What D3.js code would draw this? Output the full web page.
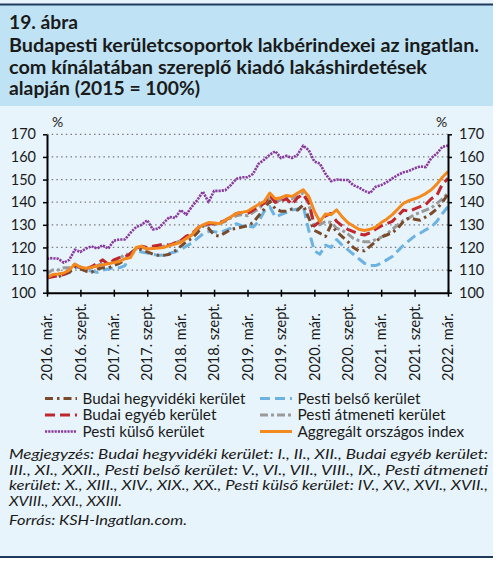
<!DOCTYPE html>
<html><head><meta charset="utf-8">
<script src="https://cdn.jsdelivr.net/npm/d3@7"></script>
<style>html,body{margin:0;padding:0;background:#fff;}svg{display:block;}</style>
</head><body><svg id="c" width="497" height="564"></svg>
<script>
// ---- data ----
const tickLabels = ["2016. már.","2016. szept.","2017. már.","2017. szept.","2018. már.","2018. szept.","2019. már.","2019. szept.","2020. már.","2020. szept.","2021. már.","2021. szept.","2022. már."];
const yTicks = [100,110,120,130,140,150,160,170];
const seriesNames = ["Budai hegyvidéki kerület","Budai egyéb kerület","Pesti külső kerület","Pesti belső kerület","Pesti átmeneti kerület","Aggregált országos index"];
// monthly values, 2016. már. – 2022. már. (73 months)
const budaiHegyvideki = [107,107.5,107,108,109,111.5,110.5,109.5,109,110.5,
 111,111,112,113,114.5,117.5,119.5,119,118,117,
 116.5,116.5,117,118.5,120.5,122.5,124,126.5,129.5,128.5,
 125.5,125,126.5,128,128.5,129,129.5,131,134,137,
 140.5,137,136,136,137,136.5,138.8,133,127.5,126.3,
 124.8,130,127,124.8,122.6,120,118.5,118.5,120.5,122.6,
 124.5,125.5,126.5,128.5,131.5,133,132.5,132,133.5,135,
 137,140,143.5];
const budaiEgyeb = [106.5,107,107.5,108,110,112.5,111,110.5,111.5,113,
 114.5,112.5,114.5,115.5,116,117,119.5,120.5,120,120.5,
 121,121.5,121,122,123,125,126,128.5,130,130.5,
 130.5,131,132,133.5,135,135.5,135,136.5,138,139.5,
 143,140,140.5,141.5,139,142,143.5,140,129.5,131.5,
 134,135,131.5,129.5,128,127,126,125.5,126.5,128,
 129.5,130.5,131.5,134,136.5,136,137,138,139,141.5,
 143,148,150.5];
const pestiKulso = [115,115.3,115,113.3,114.5,119,118,119.5,120.5,119.5,
 121,119.5,123,123.5,123.5,126.5,129,130,132,128,
 128.3,131,133.5,133,136.5,134.5,138,141,144.7,140,
 145,145,145.3,147.5,150.3,151,151,152.5,157,158.8,
 161,162.5,159.5,160.5,159.5,161,165,163,158,157,
 152.5,149.3,150,149.8,149.8,147.5,146.5,145,144,146.8,
 147.5,148.8,150.5,152,153.2,153.8,155,155.8,155.5,159.5,
 161.5,164.5,165];
const pestiBelso = [107,107.5,108,108,109,111,111.5,110,109.5,109,
 110,110.5,111,111,112,117,118.5,118,117.5,117,
 116.5,116.5,117.5,118,119,120.5,122,124,126,127,
 127,126.5,127.5,128.5,130.5,129.5,129.5,129,131.5,136,
 138,133.5,134.5,135.5,136.5,137,138.4,127.5,118.5,117,
 121,120,123.5,121,119,117,115,113,112,112,
 113,114.5,116,118.5,121,123,125,126.3,127.8,129,
 131.5,135,138];
const pestiAtmeneti = [108.5,110,110,111,111,112,111,110.5,111,112,
 113,113,113.5,115,117,117,119.5,120,119.5,119.5,
 120,120.5,121,122,123,124,125.5,128,129.5,130,
 130,130.5,131.5,133,134,134.5,134,135.5,137,139.5,
 142.5,140,141,142,141.5,143,144,139,130,130,
 131.5,131,128.5,127.5,126,124,123,122.5,122.5,123.5,
 124.5,126,128,130,132,133,134.5,135.5,136.5,137.5,
 139.5,141.5,144];
const aggregalt = [106.6,108,108.3,108.7,110,112.7,111.3,110.8,111.2,111.8,
 112.3,112.8,113.3,113.8,115,115.5,120,120.5,119.3,119.5,
 119.7,120,120.8,121.5,122.3,124,125.5,128.5,130,131,
 130.8,130.5,132,133.5,135,135.5,136,137.5,139,140.3,
 144,141.5,142,143,142.5,144,145.5,142.5,136,131.4,
 134.8,134.5,136.6,133.5,131,129.5,128,127.5,128,129,
 131,132.5,134.5,137,139.5,140.7,141.5,142.5,143.8,145.5,
 148,151,153.5];

const series = [
 {name:seriesNames[4], values:pestiAtmeneti, color:"#9a9a9a", dash:"8,3,3,3", w:3},
 {name:seriesNames[3], values:pestiBelso, color:"#6db3e2", dash:"10,5", w:3},
 {name:seriesNames[0], values:budaiHegyvideki, color:"#7a4b2b", dash:"8,4,2.5,4", w:3},
 {name:seriesNames[1], values:budaiEgyeb, color:"#c0262d", dash:"10,5", w:3},
 {name:seriesNames[2], values:pestiKulso, color:"#8a3a9e", dash:"2.2,1", w:2.6},
 {name:seriesNames[5], values:aggregalt, color:"#f48a1e", dash:null, w:3}
];
const styleOf = n => series.find(s=>s.name===n);

const svg = d3.select("#c");
const FONT = "Lato, 'Noto Sans', sans-serif";
function fit(sel,w){ sel.attr("textLength",w).attr("lengthAdjust","spacingAndGlyphs"); return sel; }

// backgrounds
svg.append("rect").attr("x",0).attr("y",0).attr("width",493).attr("height",557).attr("fill","#e8f4fb");
svg.append("rect").attr("x",0).attr("y",5).attr("width",493).attr("height",101).attr("fill","#bfe3f4");
svg.append("line").attr("x1",0).attr("x2",493).attr("y1",4.5).attr("y2",4.5).attr("stroke","#1f3a5f").attr("stroke-width",2);
svg.append("line").attr("x1",0).attr("x2",493).attr("y1",557).attr("y2",557).attr("stroke","#1f3a5f").attr("stroke-width",2);

// title
const titleLines = [
 {t:"19. ábra", y:29, w:69},
 {t:"Budapesti kerületcsoportok lakbérindexei az ingatlan.", y:51.5, w:470},
 {t:"com kínálatában szereplő kiadó lakáshirdetések", y:73.5, w:418},
 {t:"alapján (2015 = 100%)", y:95, w:191}
];
titleLines.forEach(l=>{
 fit(svg.append("text").attr("x",9).attr("y",l.y).attr("font-family",FONT).attr("font-weight","bold")
  .attr("font-size",18).attr("fill","#1a1a1a").text(l.t), l.w);
});

// scales
const x = d3.scaleLinear().domain([0,72]).range([47,448]);
const y = d3.scaleLinear().domain([100,170]).range([292.7,134.3]);

// grid
const g = svg.append("g");
g.selectAll("line.grid").data(yTicks.filter(v=>v>100)).join("line")
 .attr("x1",x(0)).attr("x2",x(72)).attr("y1",d=>y(d)).attr("y2",d=>y(d))
 .attr("stroke","#7a7a7a").attr("stroke-width",1.3).attr("stroke-dasharray","1.5,3.2");

// lines
const line = d3.line().x((d,i)=>x(i)).y(d=>y(d));
series.forEach(s=>{
 g.append("path").datum(s.values).attr("d",line).attr("fill","none")
  .attr("stroke",s.color).attr("stroke-width",s.w).attr("stroke-dasharray",s.dash)
  .attr("stroke-linejoin","round");
});

// axes
function styleAxis(a){
 a.select(".domain").attr("stroke","#000").attr("stroke-width",2);
 a.selectAll(".tick line").attr("stroke","#000").attr("stroke-width",1.5);
 a.selectAll("text").attr("font-family",FONT).attr("font-size",14.5).attr("fill","#1a1a1a");
}
const la = svg.append("g").attr("transform",`translate(${x(0)},0)`)
 .call(d3.axisLeft(y).tickValues(yTicks).tickSize(4).tickPadding(7).tickSizeOuter(0));
styleAxis(la);
const ra = svg.append("g").attr("transform",`translate(${x(72)},0)`)
 .call(d3.axisRight(y).tickValues(yTicks).tickSize(4).tickPadding(7).tickSizeOuter(0));
styleAxis(ra);
const xa = svg.append("g").attr("transform",`translate(0,${y(100)})`)
 .call(d3.axisBottom(x).tickValues(d3.range(0,73,6)).tickSize(4).tickSizeOuter(0).tickFormat(()=>""));
styleAxis(xa);
xa.selectAll(".tick line").attr("y1",-3);
// x labels rotated
svg.selectAll("text.xl").data(d3.range(0,73,6)).join("text")
 .attr("transform",d=>`translate(${x(d)},381) rotate(-90)`)
 .attr("dy","0.36em").attr("text-anchor","start")
 .attr("font-family",FONT).attr("font-size",14.5).attr("fill","#1a1a1a")
 .text((d,i)=>tickLabels[i]);

svg.append("text").attr("x",52).attr("y",127).attr("font-family",FONT).attr("font-size",14).attr("fill","#1a1a1a").text("%");
svg.append("text").attr("x",436).attr("y",127).attr("font-family",FONT).attr("font-size",14).attr("fill","#1a1a1a").text("%");

// legend
const legendItems = [
 {n:seriesNames[0], x:45, y:398.5, w:163},
 {n:seriesNames[1], x:45, y:415, w:134},
 {n:seriesNames[2], x:45, y:431.5, w:122},
 {n:seriesNames[3], x:260, y:398.5, w:123},
 {n:seriesNames[4], x:260, y:415, w:148},
 {n:seriesNames[5], x:260, y:431.5, w:166.6}
];
legendItems.forEach(it=>{
 const s = styleOf(it.n);
 svg.append("line").attr("x1",it.x).attr("x2",it.x+32).attr("y1",it.y).attr("y2",it.y)
  .attr("stroke",s.color).attr("stroke-width",s.w).attr("stroke-dasharray",s.dash);
 fit(svg.append("text").attr("x",it.x+37.5).attr("y",it.y+5).attr("font-family",FONT)
  .attr("font-size",15).attr("fill","#1a1a1a").text(it.n), it.w);
});

// note
const noteLines = [
 {t:"Megjegyzés: Budai hegyvidéki kerület: I., II., XII., Budai egyéb kerület:", y:459, w:479},
 {t:"III., XI., XXII., Pesti belső kerület: V., VI., VII., VIII., IX., Pesti átmeneti", y:474.6, w:479},
 {t:"kerület: X., XIII., XIV., XIX., XX., Pesti külső kerület: IV., XV., XVI., XVII.,", y:490.2, w:479},
 {t:"XVIII., XXI., XXIII.", y:505.8, w:113},
 {t:"Forrás: KSH-Ingatlan.com.", y:524.5, w:178}
];
noteLines.forEach(l=>{
 fit(svg.append("text").attr("x",9).attr("y",l.y).attr("font-family",FONT).attr("font-style","italic")
  .attr("font-size",12.8).attr("fill","#1a1a1a").text(l.t), l.w);
});
</script></body></html>
